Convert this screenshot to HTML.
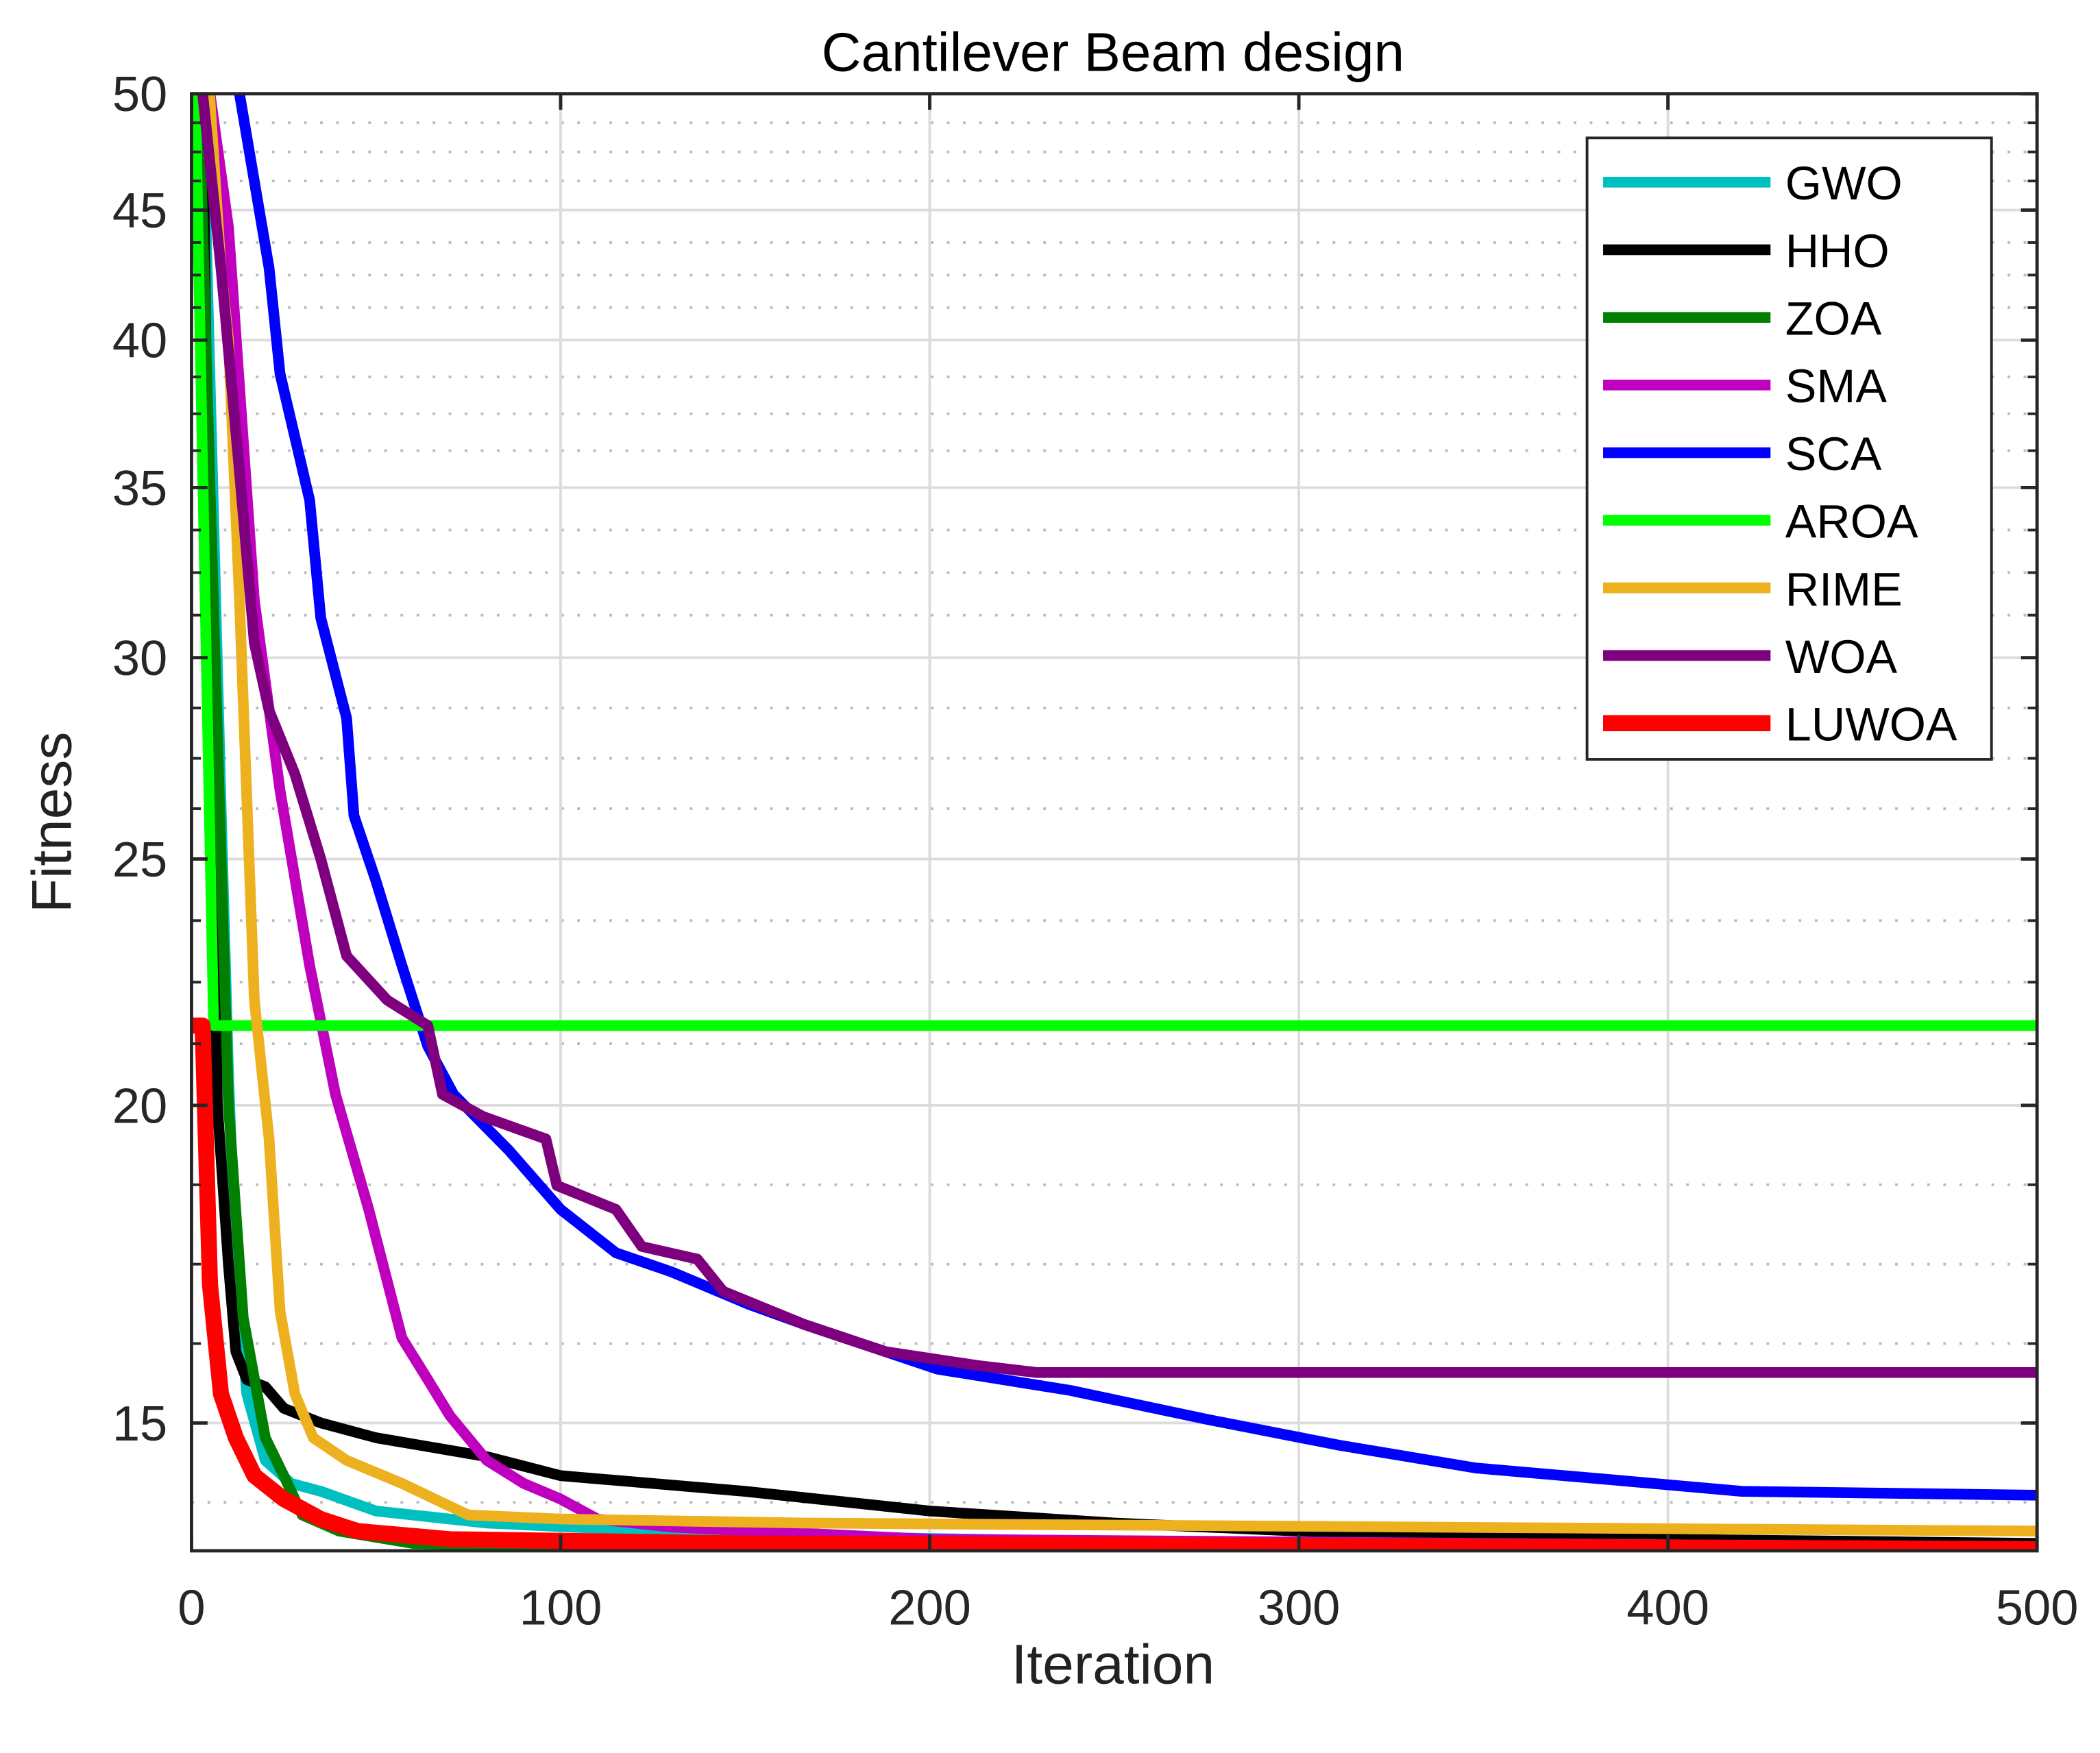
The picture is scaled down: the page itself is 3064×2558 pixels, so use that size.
<!DOCTYPE html>
<html><head><meta charset="utf-8"><style>
html,body{margin:0;padding:0;background:#fff;}
svg{display:block;font-family:"Liberation Sans",Arial,sans-serif;}
</style></head><body>
<svg id="chart" width="3064" height="2558" viewBox="0 0 1568 1309" preserveAspectRatio="none" xmlns="http://www.w3.org/2000/svg">
<defs><clipPath id="clip"><rect x="143" y="70" width="1378" height="1088"/></clipPath></defs>
<rect x="0" y="0" width="1568" height="1309" fill="#fff"/>
<g id="grid"></g>
<g id="series" clip-path="url(#clip)"></g>
<g id="axes"></g>
<text x="831" y="53" font-size="41" text-anchor="middle" fill="#000">Cantilever Beam design</text>
<text x="831" y="1257" font-size="42" text-anchor="middle" fill="#222">Iteration</text>
<text x="0" y="0" font-size="42" text-anchor="middle" fill="#222" transform="translate(53,614) rotate(-90)">Fitness</text>
<g id="legend"></g>
</svg>
<script>
const seriesNames = ["GWO","HHO","ZOA","SMA","SCA","AROA","RIME","WOA","LUWOA"];
const seriesColors = ["#00bfbf","#000000","#007f00","#bf00bf","#0000ff","#00ff00","#edb120","#7e007e","#ff0000"];
const xTicks = [0,100,200,300,400,500];
const yTicks = [15,20,25,30,35,40,45,50];
const gwoIter = [3,8,10,12,15,20,27,35,50,80,150,250,500];
const gwoVal = [50,26.3,20.6,17.2,15.4,14.5,14.2,14.1,13.85,13.7,13.55,13.47,13.4];
const hhoIter = [3,5,7,10,12,15,20,25,35,50,80,100,150,200,250,300,400,500];
const hhoVal = [50,30,20,17.3,16,15.6,15.5,15.2,15.0,14.8,14.55,14.3,14.1,13.85,13.7,13.6,13.5,13.45];
const zoaIter = [2,5,10,14,20,25,30,40,60,150,500];
const zoaVal = [50,35,20,16.5,14.8,14.3,13.8,13.6,13.45,13.4,13.37];
const smaIter = [0,5,10,17,24,32,39,48,57,64,70,80,90,100,110,130,200,500];
const smaVal = [60,50,44.3,31.6,26.6,22.7,20.2,18.2,16.2,15.6,15.1,14.5,14.2,14.0,13.75,13.65,13.5,13.4];
const scaIter = [13,21,24,32,35,42,44,50,57,64,71,86,100,115,130,151,166,188,202,238,275,311,348,384,420,500];
const scaVal = [50,42.7,38.8,34.6,31.1,28.4,26.0,24.5,22.7,21.1,20.2,19.2,18.2,17.5,17.2,16.7,16.4,16.0,15.75,15.45,15.05,14.7,14.4,14.25,14.1,14.05];
const aroaIter = [0,4,6,500];
const aroaVal = [60,30,21.5,21.5];
const rimeIter = [3,8,10,13,17,21,24,28,33,42,57,75,100,166,500];
const rimeVal = [55,42.7,40,31.6,22,19.4,16.6,15.4,14.8,14.5,14.2,13.8,13.75,13.7,13.6];
const woaIter = [3,8,13,17,21,28,35,42,53,64,68,79,96,99,115,122,137,144,166,188,213,229,500];
const woaVal = [50,42.7,35.5,30.4,28.6,27.0,25.0,22.9,22.0,21.5,20.2,19.8,19.4,18.6,18.2,17.6,17.4,16.9,16.4,16.0,15.8,15.7,15.7];
const luwoaIter = [0,3,5,8,12,17,25,35,45,70,150,500];
const luwoaVal = [21.5,21.5,17.0,15.4,14.8,14.3,14.0,13.75,13.6,13.5,13.45,13.38];

const iters = [gwoIter,hhoIter,zoaIter,smaIter,scaIter,aroaIter,rimeIter,woaIter,luwoaIter];
const vals = [gwoVal,hhoVal,zoaVal,smaVal,scaVal,aroaVal,rimeVal,woaVal,luwoaVal];

const L=143,R=1521,T=70,B=1158, YMAX=50, YMIN=13.36;
const K=(B-T)/Math.log10(YMAX/YMIN);
function xs(i){return L+(i/500)*(R-L);}
function ys(v){return T+Math.log10(YMAX/v)*K;}
const NS="http://www.w3.org/2000/svg";
function mk(tag,attrs,parent){const e=document.createElementNS(NS,tag);for(const k in attrs)e.setAttribute(k,attrs[k]);parent.appendChild(e);return e;}

const grid=document.getElementById('grid');
const yMajPix=yTicks.map(ys);
for(let j=0;j<yMajPix.length-1;j++){
  const a=yMajPix[j],b=yMajPix[j+1];
  for(let s=1;s<4;s++){
    const y=a+(b-a)*s/4;
    const ln=mk('line',{x1:L,x2:R,y1:y,y2:y,stroke:'#bbb','stroke-width':2,'stroke-dasharray':'2,10'},grid);
    
    
  }
}
{const step=(yMajPix[0]-yMajPix[1])/4;
 for(let y=yMajPix[0]+step;y<B-2;y+=step){
   const ln=mk('line',{x1:L,x2:R,y1:y,y2:y,stroke:'#bbb','stroke-width':2,'stroke-dasharray':'2,10'},grid);
   
   
 }}
yTicks.forEach(v=>{const y=ys(v);
  const ln=mk('line',{x1:L,x2:R,y1:y,y2:y,stroke:'#dcdcdc','stroke-width':2},grid);
  
  
});
xTicks.forEach(t=>{const x=xs(t);
  const ln=mk('line',{x1:x,x2:x,y1:T,y2:B,stroke:'#dcdcdc','stroke-width':2},grid);
  
  
});

const sg=document.getElementById('series');
for(let s=0;s<seriesNames.length;s++){
  const pts=iters[s].map((it,k)=>xs(it).toFixed(1)+','+ys(vals[s][k]).toFixed(1)).join(' ');
  const pl=mk('polyline',{points:pts,fill:'none',stroke:seriesColors[s],'stroke-width':seriesNames[s]==='LUWOA'?12:8,'stroke-linejoin':'round','stroke-linecap':'butt'},sg);
  
  
}

const ax=document.getElementById('axes');
const box=mk('rect',{x:L,y:T,width:R-L,height:B-T,fill:'none',stroke:'#262626','stroke-width':2.5},ax);


yTicks.forEach(v=>{const y=ys(v);
  mk('line',{x1:L,x2:L+12,y1:y,y2:y,stroke:'#262626','stroke-width':2.5},ax);
  mk('line',{x1:R-12,x2:R,y1:y,y2:y,stroke:'#262626','stroke-width':2.5},ax);
  const t=mk('text',{x:L-18,y:y+13,'font-size':37,'text-anchor':'end',fill:'#262626'},ax);
  t.textContent=v;
  
  
});
for(let j=0;j<yMajPix.length-1;j++){
  const a=yMajPix[j],b=yMajPix[j+1];
  for(let s=1;s<4;s++){const y=a+(b-a)*s/4;
    mk('line',{x1:L,x2:L+7,y1:y,y2:y,stroke:'#262626','stroke-width':2},ax);
    mk('line',{x1:R-7,x2:R,y1:y,y2:y,stroke:'#262626','stroke-width':2},ax);}
}
xTicks.forEach(tk=>{const x=xs(tk);
  mk('line',{x1:x,x2:x,y1:B,y2:B-12,stroke:'#262626','stroke-width':2.5},ax);
  mk('line',{x1:x,x2:x,y1:T,y2:T+12,stroke:'#262626','stroke-width':2.5},ax);
  const t=mk('text',{x:x,y:B+55,'font-size':37,'text-anchor':'middle',fill:'#262626'},ax);
  t.textContent=tk;
  
  
});

const lg=document.getElementById('legend');
const lb=mk('rect',{x:1185,y:103,width:302,height:464,fill:'#fff',stroke:'#262626','stroke-width':2},lg);


seriesNames.forEach((n,i)=>{const y=136+i*50.5;
  const ln=mk('line',{x1:1197,x2:1322,y1:y,y2:y,stroke:seriesColors[i],'stroke-width':n==='LUWOA'?12:8},lg);
  
  
  const t=mk('text',{x:1333,y:y+13,'font-size':35,fill:'#000'},lg);
  t.textContent=n;
  
  
});
</script>
</body></html>
